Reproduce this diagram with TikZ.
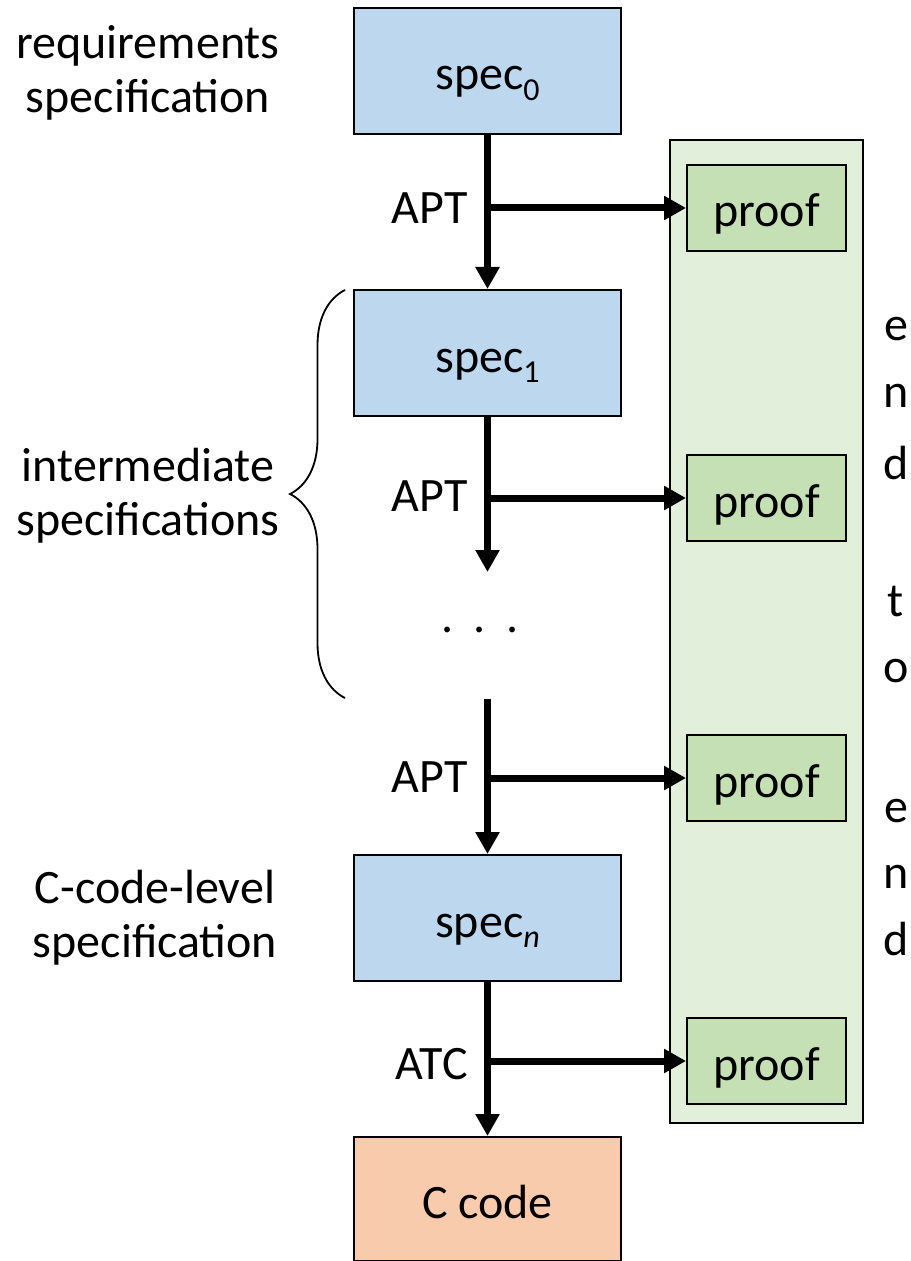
\documentclass[tikz,border=0pt]{standalone}
\usepackage{fontspec}
\setmainfont{Carlito}
\usetikzlibrary{arrows.meta,decorations.pathreplacing}
\definecolor{specblue}{HTML}{BDD7EE}
\definecolor{collgreen}{HTML}{E2EFDA}
\definecolor{proofgreen}{HTML}{C5E0B4}
\definecolor{codeorange}{HTML}{F8CBAD}
\newcommand{\mysub}[1]{\raisebox{-0.22em}{\fontsize{16}{16}\selectfont #1}}
\begin{document}
\begin{tikzpicture}[x=0.5pt,y=-0.5pt,
  every node/.style={font=\fontsize{24}{27}\selectfont, inner sep=0pt},
  boxtext/.style={text height=19pt, text depth=0pt},
  specbox/.style={boxtext, draw=black, line width=1pt, fill=specblue, minimum width=133.5pt, minimum height=63pt},
  codebox/.style={boxtext, draw=black, line width=1pt, fill=codeorange, minimum width=133.5pt, minimum height=62pt},
  proofbox/.style={boxtext, draw=black, line width=1pt, fill=proofgreen, minimum width=79.5pt, minimum height=43pt},
  column/.style={draw=black, line width=1pt, fill=collgreen, minimum width=96.5pt, minimum height=491.5pt},
  arr/.style={line width=3.5pt, -{Triangle[width=11.5pt,length=11pt]}},
  lbl/.style={align=center},
  tlabel/.style={anchor=east},
  letter/.style={anchor=base}
]
\useasboundingbox (0,0) rectangle (910,1261);
% proof column
\node[column] (col) at (766.5,631.5) {};
% spec boxes
\node[specbox] (spec0) at (487.5,71) {spec\mysub{0}};
\node[specbox] (spec1) at (487.5,353) {spec\mysub{1}};
\node[specbox] (specn) at (487.5,918) {spec\mysub{\itshape n}};
\node[codebox] (ccode) at (487.5,1199) {C code};
% proofs
\node[proofbox] (p1) at (766.5,208) {proof};
\node[proofbox] (p2) at (766.5,498) {proof};
\node[proofbox] (p3) at (766.5,778) {proof};
\node[proofbox] (p4) at (766.5,1061) {proof};
% dots
\node (dots) at (480,630) {.\hspace{0.42em}.\hspace{0.42em}.};
\coordinate (d1) at (487.5,572);
\coordinate (d2) at (487.5,699);
% main arrows
\draw[arr] (spec0.south) -- (spec1.north);
\draw[arr] (spec1.south) -- (d1);
\draw[arr] (d2) -- (specn.north);
\draw[arr] (specn.south) -- (ccode.north);
% branches
\draw[arr] (spec0.south |- p1.west) -- (p1.west);
\draw[arr] (spec1.south |- p2.west) -- (p2.west);
\draw[arr] (d2 |- p3.west) -- (p3.west);
\draw[arr] (specn.south |- p4.west) -- (p4.west);
% transformation labels
\node[tlabel] (t1) at (468,208) {APT};
\node[tlabel] (t2) at (468,496) {APT};
\node[tlabel] (t3) at (468,777) {APT};
\node[tlabel] (t4) at (468,1064) {ATC};
% left labels
\node[lbl] (l1) at (148,73) {requirements\\specification};
\node[lbl] (l2) at (148,496) {intermediate\\specifications};
\node[lbl] (l3) at (155,918) {C-code-level\\specification};
% brace
\coordinate (bt) at (345,290);
\coordinate (bb) at (345,698);
\draw[decorate, decoration={brace, amplitude=27.5pt, aspect=0.5}, line width=0.9pt] (bb) -- (bt);
% vertical text
\node[letter] (e1) at (896,341) {e};
\node[letter] (n1) at (896,408) {n};
\node[letter] (dd1) at (896,479) {d};
\node[letter] (tt) at (896,616) {t};
\node[letter] (oo) at (896,682) {o};
\node[letter] (e2) at (896,822) {e};
\node[letter] (n2) at (896,888) {n};
\node[letter] (dd2) at (896,955) {d};
\end{tikzpicture}
\end{document}
